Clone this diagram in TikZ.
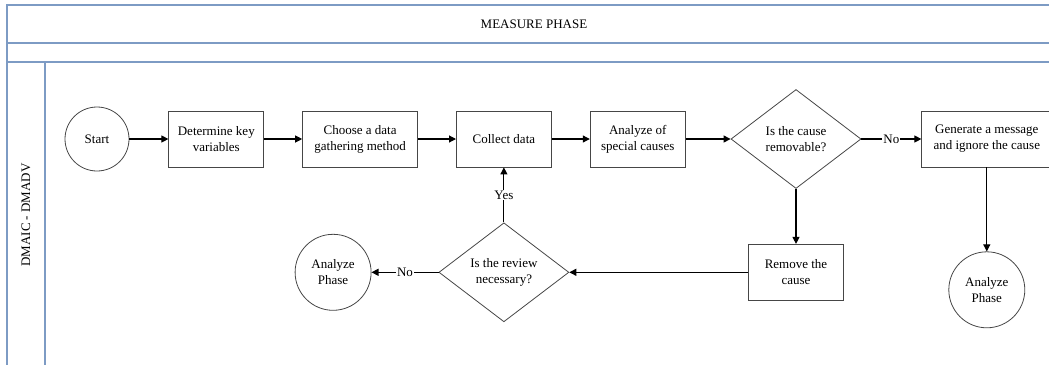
\documentclass[tikz,border=0pt]{standalone}
\usepackage{fontspec}
\setmainfont{Liberation Serif}
\usetikzlibrary{shapes.geometric, arrows.meta, positioning}

\definecolor{lanecol}{RGB}{125,155,196}
\definecolor{edgecol}{RGB}{70,70,70}

\begin{document}
\begin{tikzpicture}[
    x=1pt, y=-1pt,
    node distance=38pt,
    every node/.style={font=\fontsize{13}{16}\selectfont},
    lane/.style={draw=lanecol, line width=1.3pt},
    block/.style={rectangle, draw=edgecol, line width=0.8pt, align=center, minimum width=95pt, minimum height=56pt, inner sep=2pt},
    terminal/.style={circle, draw=edgecol, line width=0.8pt, align=center, inner sep=0pt},
    decision/.style={diamond, draw=edgecol, line width=0.8pt, align=center, inner sep=0pt, minimum width=130pt, minimum height=99pt},
    arrow/.style={-{Triangle[length=7pt,width=7pt]}, line width=1.1pt, draw=black},
    answer/.style={fill=white, inner sep=1pt}
]
    \useasboundingbox (0,0) rectangle (1049,365);

    % swimlane frame
    \draw[lane] (1049,5) -- (7,5) -- (7,365);
    \draw[lane] (7,43) -- (1049,43);
    \draw[lane] (7,62) -- (1049,62);
    \draw[lane] (45,62) -- (45,365);
    \node (phase) at (534,24) {MEASURE PHASE};
    \node[rotate=90] (lanename) at (26,215) {DMAIC - DMADV};

    % main row
    \node[terminal, minimum size=64pt] (start) at (97,139) {Start};
    \node[block, right=39pt of start] (keyvars) {Determine key\\variables};
    \node[block, minimum width=115pt, right=of keyvars] (method) {Choose a data\\gathering method};
    \node[block, right=of method] (collect) {Collect data};
    \node[block, right=of collect] (special) {Analyze of\\special causes};
    \node[decision, right=45pt of special] (removable) {Is the cause\\removable?};
    \node[block, minimum width=130pt, right=60pt of removable] (message) {Generate a message\\and ignore the cause};

    % lower row
    \node[block, below=55pt of removable] (remove) {Remove the\\cause};
    \node[decision] (review) at (collect |- remove) {Is the review\\necessary?};
    \node[terminal, minimum size=76pt, left=67pt of review] (endleft) {Analyze\\Phase};
    \node[terminal, minimum size=76pt, below=84pt of message] (endright) {Analyze\\Phase};

    \draw[arrow] (start) -- (keyvars);
    \draw[arrow] (keyvars) -- (method);
    \draw[arrow] (method) -- (collect);
    \draw[arrow] (collect) -- (special);
    \draw[arrow] (special) -- (removable);
    \draw[arrow] (removable) -- node[answer] {No} (message);
    \draw[arrow] (removable) -- (remove);
    \draw[arrow] (message) -- (endright);
    \draw[arrow] (remove) -- (review);
    \draw[arrow] (review) -- node[answer] {No} (endleft);
    \draw[arrow] (review) -- node[answer] {Yes} (collect);
\end{tikzpicture}
\end{document}
